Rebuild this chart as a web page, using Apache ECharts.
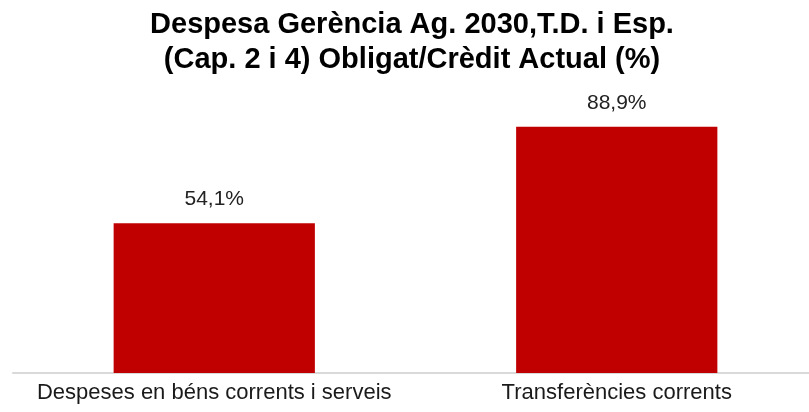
<!DOCTYPE html>
<html>
<head>
<meta charset="utf-8">
<script src="https://cdn.jsdelivr.net/npm/echarts@6/dist/echarts.min.js"></script>
<style>html,body{margin:0;padding:0;background:#fff;overflow:hidden;width:809px;height:412px}#c{width:820px;height:412px}</style>
</head>
<body>
<div id="c"></div>
<script>
const titleLines = ['Despesa Gerència Ag. 2030,T.D. i Esp.', '(Cap. 2 i 4) Obligat/Crèdit Actual (%)'];
const categories = ['Despeses en béns corrents i serveis', 'Transferències corrents'];
const values = [54.1, 88.9];

const chart = echarts.init(document.getElementById('c'), null, {renderer: 'canvas'});
chart.setOption({
  animation: false,
  backgroundColor: '#ffffff',
  title: {
    text: titleLines.join('\n'),
    left: 407,
    textAlign: 'center',
    top: 2,
    textStyle: {
      fontFamily: 'Liberation Sans, Arial, sans-serif',
      fontSize: 29,
      fontWeight: 'bold',
      color: '#000000',
      lineHeight: 35
    }
  },
  grid: {left: 13, right: 2, top: 96, bottom: 39, containLabel: false},
  xAxis: {
    type: 'category',
    data: categories,
    axisLine: {lineStyle: {color: '#d9d9d9', width: 2}},
    axisTick: {show: false},
    axisLabel: {
      interval: 0,
      fontFamily: 'Liberation Sans, Arial, sans-serif',
      fontSize: 22,
      color: '#1a1a1a',
      margin: 9
    }
  },
  yAxis: {
    type: 'value',
    min: 0,
    max: 100,
    show: false,
    splitLine: {show: false}
  },
  series: [{
    type: 'bar',
    data: values,
    barWidth: '50%',
    itemStyle: {color: '#c00000'},
    label: {
      show: true,
      position: 'top',
      distance: 13,
      fontFamily: 'Liberation Sans, Arial, sans-serif',
      fontSize: 21,
      color: '#222222',
      formatter: p => p.value.toFixed(1).replace('.', ',') + '%'
    }
  }]
});
</script>
</body>
</html>
